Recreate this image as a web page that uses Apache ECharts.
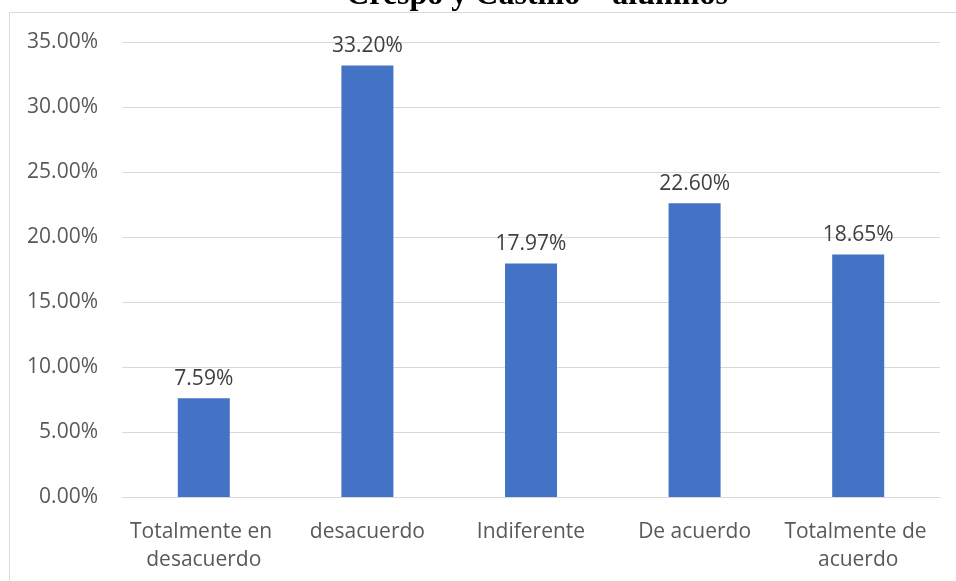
<!DOCTYPE html>
<html>
<head>
<meta charset="utf-8">
<script src="https://cdn.jsdelivr.net/npm/echarts@6/dist/echarts.min.js"></script>
<style>
  html, body { margin: 0; padding: 0; background: #ffffff; }
  #chart { width: 956px; height: 581px; }
</style>
</head>
<body>
<div id="chart"></div>
<script>
// Survey responses (percent of students)
const titleText = 'Crespo y Castillo – alumnos';
const categories = ['Totalmente en desacuerdo', 'desacuerdo', 'Indiferente', 'De acuerdo', 'Totalmente de acuerdo'];
const values = [7.59, 33.20, 17.97, 22.60, 18.65];
const yMin = 0;
const yMax = 35;
const yStep = 5;

const textColor = '#595959';
const uiFont = '"Open Sans", "Noto Sans", sans-serif';

const chart = echarts.init(document.getElementById('chart'));
chart.setOption({
  animation: false,
  backgroundColor: '#ffffff',
  grid: { left: 122, right: 16, top: 42, bottom: 84 },
  graphic: [
    {
      type: 'rect',
      shape: { x: 9.5, y: 12.5, width: 960, height: 600 },
      style: { fill: 'none', stroke: '#d9d9d9', lineWidth: 1 },
      silent: true
    },
    {
      type: 'text',
      x: 537,
      y: 12,
      style: {
        text: titleText,
        fill: '#000000',
        font: 'bold 32px "Liberation Serif", "Times New Roman", serif',
        textAlign: 'center',
        textVerticalAlign: 'bottom'
      },
      silent: true
    }
  ],
  xAxis: {
    type: 'category',
    data: categories,
    axisLine: { show: true, lineStyle: { color: '#d9d9d9', width: 1 } },
    axisTick: { show: false },
    axisLabel: {
      color: textColor,
      fontFamily: uiFont,
      fontSize: 21,
      lineHeight: 28,
      margin: 21,
      width: 160,
      overflow: 'break',
      interval: 0
    }
  },
  yAxis: {
    type: 'value',
    min: yMin,
    max: yMax,
    interval: yStep,
    axisLine: { show: false },
    axisTick: { show: false },
    splitLine: { lineStyle: { color: '#d9d9d9', width: 1 } },
    axisLabel: {
      color: textColor,
      fontFamily: uiFont,
      fontSize: 21,
      margin: 24,
      formatter: v => v.toFixed(2) + '%'
    }
  },
  series: [{
    type: 'bar',
    data: values,
    barWidth: 52,
    itemStyle: { color: '#4472C4' },
    label: {
      show: true,
      position: 'top',
      distance: 9,
      color: '#404040',
      fontFamily: uiFont,
      fontSize: 21,
      formatter: p => p.value.toFixed(2) + '%'
    }
  }]
});
</script>
</body>
</html>
